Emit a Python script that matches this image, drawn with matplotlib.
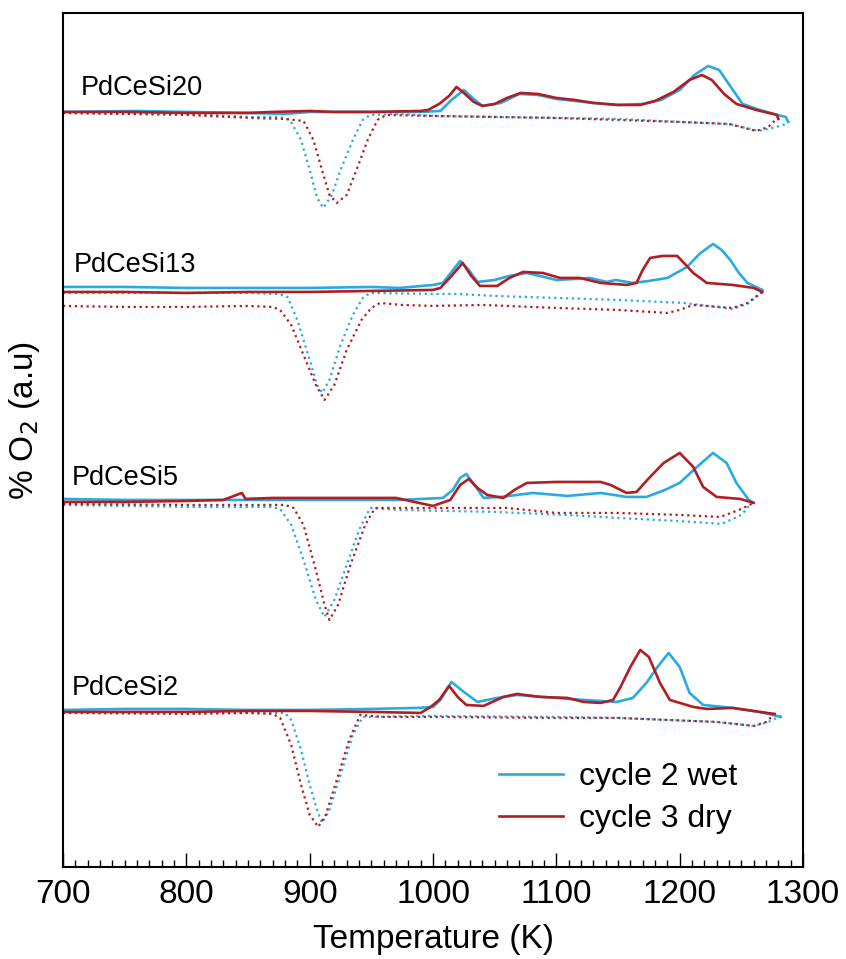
import numpy as np
import matplotlib
matplotlib.use('Agg')
import matplotlib.pyplot as plt
from matplotlib.ticker import MultipleLocator, NullLocator

plt.rcParams['font.family'] = ['Liberation Sans', 'DejaVu Sans']

# samples, bottom trace last; offsets stack the traces (a.u.)
samples = ['PdCeSi20', 'PdCeSi13', 'PdCeSi5', 'PdCeSi2']
offsets = [75.5, 57.7, 36.7, 15.7]

# (T in K, signal in a.u. relative to the sample baseline)
si20_wet = [(700, 0), (760, 0.1), (800, 0), (850, -0.1), (880, -0.2), (900, 0), (950, 0), (990, 0),
            (1006, 0.1), (1015, 1.2), (1025, 2.2), (1032, 1.4), (1040, 0.6), (1055, 0.9), (1070, 1.8),
            (1085, 1.7), (1100, 1.3), (1115, 1.1), (1130, 0.9), (1150, 0.7), (1170, 0.8), (1185, 1.2),
            (1200, 2.2), (1212, 3.7), (1223, 4.6), (1232, 4.2), (1242, 2.4), (1251, 0.8), (1265, 0.2),
            (1279, -0.3), (1286, -0.5), (1288, -1.0)]
si20_dry = [(700, 0), (750, 0), (800, -0.1), (850, -0.1), (870, 0), (900, 0.1), (920, 0), (950, 0),
            (990, 0.1), (996, 0.2), (1005, 0.8), (1013, 1.6), (1019, 2.5), (1025, 1.9), (1033, 1.0),
            (1040, 0.6), (1050, 0.8), (1060, 1.4), (1071, 1.9), (1085, 1.8), (1100, 1.4), (1115, 1.2),
            (1130, 0.9), (1150, 0.7), (1168, 0.7), (1180, 1.1), (1195, 2.0), (1208, 3.2), (1218, 3.7),
            (1226, 3.2), (1236, 1.8), (1246, 0.8), (1262, 0.2), (1279, -0.3), (1280, -0.7)]
si20_wet_red = [(700, -0.1), (800, -0.2), (850, -0.5), (875, -0.5), (884, -0.8), (893, -2.8), (900, -5.8),
                (906, -8.6), (911, -9.6), (918, -8.3), (925, -5.8), (935, -2.8), (943, -0.8), (949, -0.3),
                (970, -0.2), (1000, -0.4), (1050, -0.5), (1100, -0.6), (1150, -0.7), (1200, -1.0),
                (1240, -1.2), (1264, -1.9), (1275, -1.6), (1287, -1.2)]
si20_dry_red = [(700, -0.1), (800, -0.3), (852, -0.6), (880, -0.7), (895, -0.9), (903, -2.8), (910, -5.8),
                (916, -8.3), (922, -9.1), (930, -8.3), (938, -5.8), (947, -2.8), (955, -0.8), (962, -0.3),
                (1000, -0.4), (1050, -0.5), (1100, -0.6), (1150, -0.8), (1200, -1.0), (1240, -1.2),
                (1262, -1.9), (1272, -1.5), (1280, -0.5)]

si13_wet = [(700, 0.3), (750, 0.3), (800, 0.2), (850, 0.2), (900, 0.2), (950, 0.3), (973, 0.2), (1000, 0.5),
            (1008, 0.7), (1015, 1.8), (1022, 2.9), (1029, 2.0), (1036, 0.8), (1050, 1.0), (1062, 1.4),
            (1076, 1.7), (1090, 1.3), (1100, 1.0), (1115, 1.1), (1127, 1.2), (1141, 0.8), (1148, 1.0),
            (1162, 0.7), (1175, 0.9), (1190, 1.2), (1206, 2.3), (1216, 3.6), (1227, 4.6), (1234, 4.0),
            (1241, 3.0), (1248, 1.7), (1255, 0.7), (1267, 0.0)]
si13_dry = [(700, -0.2), (750, -0.2), (800, -0.3), (850, -0.2), (900, -0.2), (950, -0.1), (1000, 0.0),
            (1006, 0.2), (1015, 1.4), (1024, 2.7), (1031, 1.4), (1038, 0.4), (1052, 0.4), (1062, 1.2),
            (1073, 1.8), (1089, 1.7), (1103, 1.2), (1119, 1.2), (1136, 0.7), (1157, 0.5), (1165, 0.7),
            (1170, 2.0), (1176, 3.2), (1186, 3.4), (1198, 3.4), (1205, 2.5), (1211, 1.7), (1222, 0.7),
            (1243, 0.5), (1260, 0.2), (1267, -0.2)]
si13_wet_red = [(700, -0.3), (800, -0.3), (850, -0.3), (875, -0.4), (882, -0.7), (890, -3.0), (900, -7.0),
                (906, -9.5), (910, -10.3), (916, -9.0), (925, -5.5), (935, -2.5), (943, -0.8), (949, -0.3),
                (1000, -0.4), (1020, -0.4), (1050, -0.6), (1100, -0.8), (1150, -1.0), (1203, -1.3),
                (1243, -1.9), (1255, -1.4), (1267, -0.2)]
si13_dry_red = [(700, -1.6), (750, -1.7), (800, -1.7), (850, -1.6), (870, -1.7), (876, -2.0), (885, -3.5),
                (895, -6.5), (905, -9.5), (912, -11.0), (920, -9.5), (930, -6.0), (942, -3.0), (950, -1.8),
                (957, -1.3), (975, -1.5), (1000, -1.6), (1040, -1.5), (1100, -1.8), (1150, -2.0),
                (1190, -2.3), (1200, -2.0), (1211, -1.5), (1243, -1.8), (1255, -1.3), (1267, -0.2)]

si5_wet = [(700, 0.1), (750, 0), (800, 0), (850, 0), (900, 0), (950, 0), (973, 0), (1008, 0.2), (1016, 1.0),
           (1022, 2.2), (1027, 2.6), (1033, 1.6), (1041, 0.2), (1055, 0.3), (1081, 0.7), (1109, 0.4),
           (1136, 0.7), (1157, 0.3), (1173, 0.3), (1188, 1.0), (1200, 1.7), (1214, 3.3), (1227, 4.7),
           (1238, 3.7), (1246, 1.7), (1256, 0.0), (1259, -0.2)]
si5_dry = [(700, -0.2), (750, -0.2), (800, -0.1), (830, 0), (845, 0.7), (848, 0.1), (870, 0.2), (900, 0.2),
           (950, 0.2), (970, 0.2), (985, -0.2), (1000, -0.6), (1014, 0.0), (1022, 1.5), (1029, 2.1),
           (1036, 1.2), (1044, 0.5), (1057, 0.2), (1066, 1.0), (1076, 1.7), (1100, 1.8), (1120, 1.8),
           (1136, 1.8), (1144, 1.5), (1157, 0.7), (1165, 0.8), (1176, 2.3), (1187, 3.7), (1200, 4.7),
           (1211, 3.3), (1219, 1.3), (1230, 0.3), (1249, 0.1), (1260, -0.3)]
si5_wet_red = [(700, -0.5), (800, -0.7), (850, -0.7), (870, -0.7), (876, -0.9), (885, -2.5), (895, -6.0),
               (905, -10.0), (912, -11.7), (920, -10.0), (930, -6.5), (940, -3.0), (949, -0.8), (973, -1.0),
               (1050, -1.2), (1109, -1.5), (1150, -1.8), (1198, -2.1), (1234, -2.4), (1250, -1.5),
               (1259, -0.2)]
si5_dry_red = [(700, -0.4), (800, -0.5), (850, -0.5), (880, -0.5), (887, -0.8), (895, -2.5), (905, -7.0),
               (912, -10.5), (916, -12.0), (923, -10.5), (933, -6.5), (945, -2.5), (953, -0.8), (973, -0.8),
               (1060, -0.8), (1100, -1.3), (1150, -1.3), (1200, -1.5), (1233, -1.7), (1248, -1.0),
               (1260, -0.3)]

si2_wet = [(700, 0), (750, 0.1), (800, 0.1), (850, 0), (900, 0), (950, 0.1), (987, 0.2), (1000, 0.3),
           (1006, 1.0), (1015, 2.8), (1025, 1.8), (1036, 0.8), (1052, 1.2), (1068, 1.5), (1100, 1.2),
           (1122, 1.0), (1149, 0.8), (1162, 1.2), (1173, 2.7), (1182, 4.3), (1191, 5.7), (1200, 4.3),
           (1208, 1.7), (1219, 0.5), (1243, 0.2), (1265, -0.2), (1282, -0.7)]
si2_dry = [(700, -0.2), (750, -0.2), (800, -0.2), (850, -0.1), (900, -0.1), (950, -0.2), (990, -0.3),
           (998, 0.3), (1005, 1.0), (1013, 2.4), (1020, 1.3), (1027, 0.5), (1041, 0.4), (1057, 1.3),
           (1068, 1.6), (1087, 1.3), (1109, 1.2), (1122, 0.8), (1136, 0.7), (1146, 1.0), (1152, 2.3),
           (1160, 4.3), (1168, 6.0), (1175, 5.3), (1184, 2.7), (1192, 1.0), (1211, 0.3), (1222, 0.1),
           (1243, 0.2), (1265, -0.2), (1277, -0.4)]
si2_wet_red = [(700, -0.2), (800, -0.3), (850, -0.3), (880, -0.3), (885, -1.0), (893, -4.0), (900, -7.5),
               (906, -10.0), (910, -11.3), (916, -10.0), (925, -6.5), (935, -2.5), (943, -0.7), (1000, -0.6),
               (1100, -0.7), (1150, -0.8), (1230, -1.2), (1260, -1.6), (1272, -1.2), (1282, -0.6)]
si2_dry_red = [(700, -0.3), (800, -0.4), (850, -0.3), (870, -0.4), (876, -0.8), (885, -3.5), (893, -7.5),
               (900, -10.5), (907, -11.7), (913, -10.5), (922, -7.0), (932, -3.0), (941, -0.5), (960, -0.7),
               (1000, -0.7), (1100, -0.8), (1150, -0.8), (1230, -1.2), (1260, -1.6), (1270, -1.2),
               (1277, -0.4)]

# solid = oxidation trace, dotted = reduction trace
oxid_wet = [si20_wet, si13_wet, si5_wet, si2_wet]
oxid_dry = [si20_dry, si13_dry, si5_dry, si2_dry]
red_wet = [si20_wet_red, si13_wet_red, si5_wet_red, si2_wet_red]
red_dry = [si20_dry_red, si13_dry_red, si5_dry_red, si2_dry_red]

label_pos = [(714, 2.4), (709, 2.5), (707, 2.2), (707, 2.2)]

blue = '#29abe2'
red = '#b01e23'

fig = plt.figure(figsize=(8.46, 9.59), dpi=100)
ax = fig.add_axes([0.0745, 0.096, 0.8747, 0.8905])


def draw(curve, off, color, ls, lw, label=None):
    d = np.array(curve, dtype=float)
    ax.plot(d[:, 0], d[:, 1] + off, color=color, ls=ls, lw=lw, label=label)


for i, name in enumerate(samples):
    off = offsets[i]
    draw(red_wet[i], off, blue, ':', 1.6)
    draw(red_dry[i], off, red, ':', 1.6)
    draw(oxid_wet[i], off, blue, '-', 1.9, 'cycle 2 wet' if i == 0 else None)
    draw(oxid_dry[i], off, red, '-', 1.9, 'cycle 3 dry' if i == 0 else None)
    ax.text(label_pos[i][0], off + label_pos[i][1], name, fontsize=19.5, va='center', ha='left')

ax.set_xlim(700, 1300)
ax.set_ylim(0, 85.4)
ax.xaxis.set_major_locator(MultipleLocator(100))
ax.xaxis.set_minor_locator(MultipleLocator(10))
ax.yaxis.set_major_locator(NullLocator())
ax.tick_params(axis='x', which='major', direction='in', length=10, width=1, labelsize=24, pad=9)
ax.tick_params(axis='x', which='minor', direction='in', length=5, width=1)
for s in ax.spines.values():
    s.set_linewidth(1.5)

ax.set_xlabel('Temperature (K)', fontsize=24, labelpad=10)
ax.set_ylabel('% O$_2$ (a.u)', fontsize=24)
ax.yaxis.set_label_coords(-0.028, 0.523)

ax.legend(loc='lower right', frameon=False, fontsize=23, handlelength=2.0,
          handletextpad=0.5, labelspacing=0.38, bbox_to_anchor=(0.95, 0.005))

fig.savefig('out.png', dpi=100)
